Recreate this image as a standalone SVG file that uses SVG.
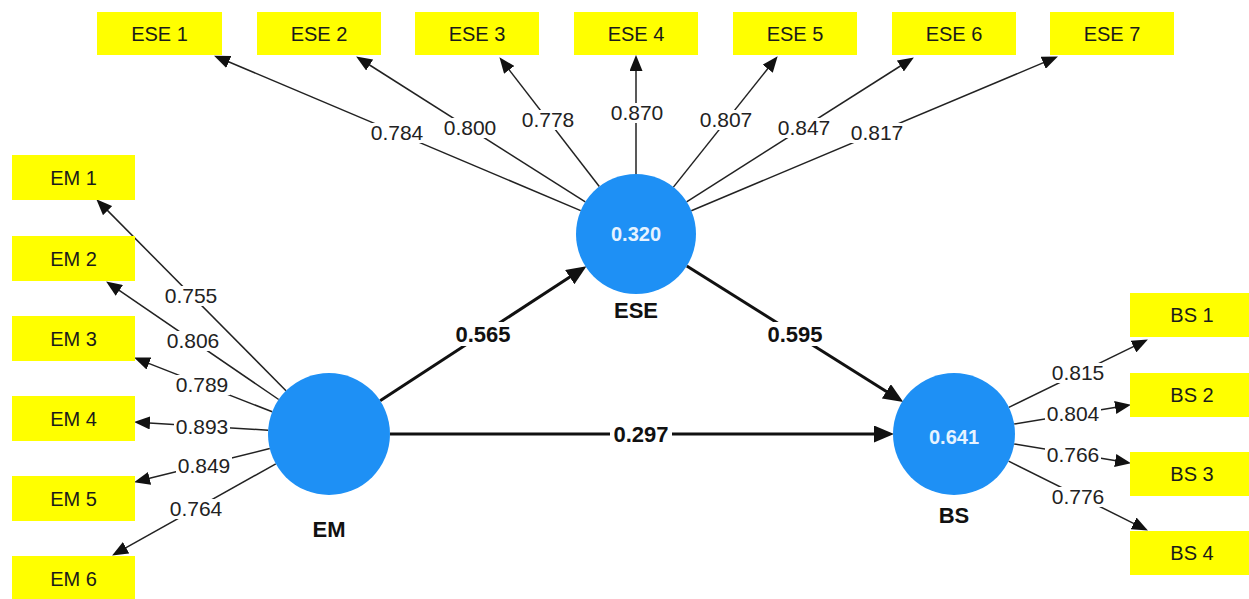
<svg xmlns="http://www.w3.org/2000/svg" width="1249" height="599" viewBox="0 0 1249 599">
<style>
.box{fill:#ffff00}
.bt{font-family:"Liberation Sans",Arial,sans-serif;font-size:20px;fill:#1a1a1a;text-anchor:middle}
.lv{stroke:#222;stroke-width:1.5;fill:none;marker-end:url(#ah)}
.st{stroke:#111;stroke-width:3;fill:none;marker-end:url(#ahb)}
.lbl{font-family:"Liberation Sans",Arial,sans-serif;font-size:21px;fill:#222;text-anchor:middle}
.slbl{font-family:"Liberation Sans",Arial,sans-serif;font-size:22px;font-weight:bold;fill:#111;text-anchor:middle}
.bg{fill:#fff}
.circ{fill:#1e90f5}
.cv{font-family:"Liberation Sans",Arial,sans-serif;font-size:20px;font-weight:bold;fill:#e6f3ff;text-anchor:middle}
.cn{font-family:"Liberation Sans",Arial,sans-serif;font-size:22px;font-weight:bold;fill:#111;text-anchor:middle}
</style>
<defs>
<marker id="ah" markerUnits="userSpaceOnUse" markerWidth="16" markerHeight="13" refX="1" refY="6.5" orient="auto"><path d="M0,0 L16,6.5 L0,13 z" fill="#111"/></marker>
<marker id="ahb" markerUnits="userSpaceOnUse" markerWidth="20" markerHeight="17" refX="1" refY="8.5" orient="auto"><path d="M0,0 L20,8.5 L0,17 z" fill="#111"/></marker>
</defs>
<rect width="1249" height="599" fill="#fff"/>
<g id="connectors">
<line class="lv" x1="580.7" y1="210.6" x2="227.9" y2="61.5"/>
<line class="lv" x1="585.3" y1="201.9" x2="368.8" y2="64.5"/>
<line class="lv" x1="599.3" y1="186.5" x2="508.6" y2="69.1"/>
<line class="lv" x1="636" y1="174" x2="636" y2="70"/>
<line class="lv" x1="673.4" y1="187.1" x2="768.3" y2="68"/>
<line class="lv" x1="686.6" y1="201.8" x2="901.2" y2="65.5"/>
<line class="lv" x1="691.3" y1="210.7" x2="1044.1" y2="62.4"/>
<line class="lv" x1="286" y1="390.7" x2="106.9" y2="209.9"/>
<line class="lv" x1="278.7" y1="399.5" x2="118.5" y2="289.9"/>
<line class="lv" x1="272.2" y1="411.8" x2="148" y2="363.1"/>
<line class="lv" x1="268.1" y1="430.2" x2="149" y2="422.9"/>
<line class="lv" x1="269.8" y1="448.6" x2="148.6" y2="478.6"/>
<line class="lv" x1="275.8" y1="463.8" x2="125.2" y2="548.2"/>
<line class="lv" x1="1008.8" y1="407.3" x2="1134.4" y2="346.1"/>
<line class="lv" x1="1014.2" y1="424.1" x2="1116.2" y2="407.3"/>
<line class="lv" x1="1014.2" y1="443.9" x2="1116.2" y2="460.7"/>
<line class="lv" x1="1008.6" y1="461.2" x2="1134.5" y2="523.8"/>
<line class="st" x1="380.1" y1="400.7" x2="570.6" y2="276.6"/>
<line class="st" x1="686.8" y1="265.9" x2="887.2" y2="391.9"/>
<line class="st" x1="390" y1="434" x2="875" y2="434"/>
<g id="loading-labels">
<rect class="bg" x="369" y="123" width="56" height="20"/><text class="lbl" x="397" y="140">0.784</text>
<rect class="bg" x="442" y="118" width="56" height="20"/><text class="lbl" x="470" y="135">0.800</text>
<rect class="bg" x="520" y="110" width="56" height="20"/><text class="lbl" x="548" y="127">0.778</text>
<rect class="bg" x="609" y="103" width="56" height="20"/><text class="lbl" x="637" y="120">0.870</text>
<rect class="bg" x="698" y="110" width="56" height="20"/><text class="lbl" x="726" y="127">0.807</text>
<rect class="bg" x="776" y="118" width="56" height="20"/><text class="lbl" x="804" y="135">0.847</text>
<rect class="bg" x="849" y="123" width="56" height="20"/><text class="lbl" x="877" y="140">0.817</text>
<rect class="bg" x="163" y="286" width="56" height="20"/><text class="lbl" x="191" y="303">0.755</text>
<rect class="bg" x="165" y="331" width="56" height="20"/><text class="lbl" x="193" y="348">0.806</text>
<rect class="bg" x="174" y="375" width="56" height="20"/><text class="lbl" x="202" y="392">0.789</text>
<rect class="bg" x="174" y="417" width="56" height="20"/><text class="lbl" x="202" y="434">0.893</text>
<rect class="bg" x="176" y="456" width="56" height="20"/><text class="lbl" x="204" y="473">0.849</text>
<rect class="bg" x="168" y="499" width="56" height="20"/><text class="lbl" x="196" y="516">0.764</text>
<rect class="bg" x="1050" y="363" width="56" height="20"/><text class="lbl" x="1078" y="380">0.815</text>
<rect class="bg" x="1045" y="404" width="56" height="20"/><text class="lbl" x="1073" y="421">0.804</text>
<rect class="bg" x="1045" y="445" width="56" height="20"/><text class="lbl" x="1073" y="462">0.766</text>
<rect class="bg" x="1050" y="487" width="56" height="20"/><text class="lbl" x="1078" y="504">0.776</text>
</g>
<g id="path-labels">
<rect class="bg" x="452" y="322" width="62" height="24"/><text class="slbl" x="483" y="342">0.565</text>
<rect class="bg" x="764" y="322" width="62" height="24"/><text class="slbl" x="795" y="342">0.595</text>
<rect class="bg" x="610" y="422" width="62" height="24"/><text class="slbl" x="641" y="442">0.297</text>
</g>
</g>
<g id="ESE1"><rect class="box" x="97" y="12" width="125" height="43"/><text class="bt" x="159.5" y="40.5">ESE 1</text></g>
<g id="ESE2"><rect class="box" x="257" y="12" width="124" height="43"/><text class="bt" x="319" y="40.5">ESE 2</text></g>
<g id="ESE3"><rect class="box" x="415" y="12" width="124" height="43"/><text class="bt" x="477" y="40.5">ESE 3</text></g>
<g id="ESE4"><rect class="box" x="574" y="12" width="124" height="43"/><text class="bt" x="636" y="40.5">ESE 4</text></g>
<g id="ESE5"><rect class="box" x="733" y="12" width="124" height="43"/><text class="bt" x="795" y="40.5">ESE 5</text></g>
<g id="ESE6"><rect class="box" x="892" y="12" width="124" height="43"/><text class="bt" x="954" y="40.5">ESE 6</text></g>
<g id="ESE7"><rect class="box" x="1050" y="12" width="124" height="43"/><text class="bt" x="1112" y="40.5">ESE 7</text></g>
<g id="EM1"><rect class="box" x="12" y="155" width="123" height="45"/><text class="bt" x="73.5" y="184.5">EM 1</text></g>
<g id="EM2"><rect class="box" x="12" y="236" width="123" height="45"/><text class="bt" x="73.5" y="265.5">EM 2</text></g>
<g id="EM3"><rect class="box" x="12" y="316" width="123" height="45"/><text class="bt" x="73.5" y="345.5">EM 3</text></g>
<g id="EM4"><rect class="box" x="12" y="396" width="123" height="45"/><text class="bt" x="73.5" y="425.5">EM 4</text></g>
<g id="EM5"><rect class="box" x="12" y="476" width="123" height="45"/><text class="bt" x="73.5" y="505.5">EM 5</text></g>
<g id="EM6"><rect class="box" x="12" y="556" width="123" height="45"/><text class="bt" x="73.5" y="585.5">EM 6</text></g>
<g id="BS1"><rect class="box" x="1130" y="293" width="124" height="44"/><text class="bt" x="1192" y="322">BS 1</text></g>
<g id="BS2"><rect class="box" x="1130" y="373" width="124" height="44"/><text class="bt" x="1192" y="402">BS 2</text></g>
<g id="BS3"><rect class="box" x="1130" y="452" width="124" height="44"/><text class="bt" x="1192" y="481">BS 3</text></g>
<g id="BS4"><rect class="box" x="1130" y="531" width="124" height="44"/><text class="bt" x="1192" y="560">BS 4</text></g>
<g id="ESE"><circle class="circ" cx="636" cy="234" r="60"/><text class="cv" x="636" y="241">0.320</text><text class="cn" x="636" y="318">ESE</text></g>
<g id="EM"><circle class="circ" cx="329" cy="434" r="61"/><text class="cn" x="329" y="537">EM</text></g>
<g id="BS"><circle class="circ" cx="954" cy="434" r="61"/><text class="cv" x="954" y="444">0.641</text><text class="cn" x="954" y="523">BS</text></g>
</svg>
